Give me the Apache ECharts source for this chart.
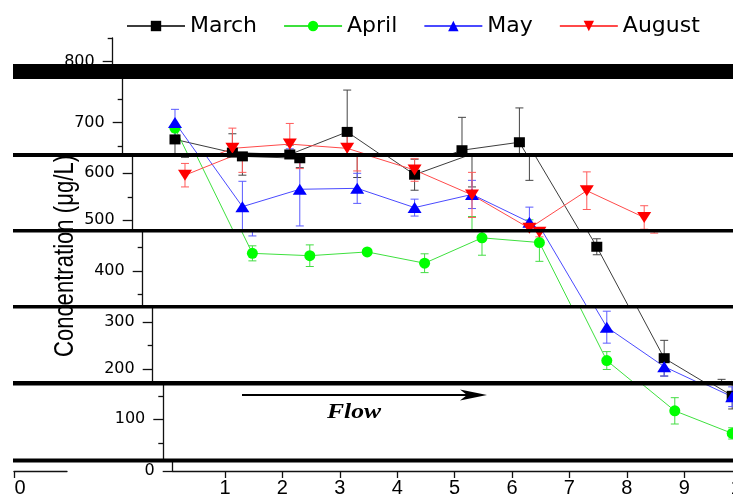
<!DOCTYPE html>
<html><head><meta charset="utf-8">
<script src="https://cdn.jsdelivr.net/npm/echarts@6/dist/echarts.min.js"></script>
<style>html,body{margin:0;padding:0;background:#fff}#c{width:733px;height:497px}</style>
</head><body><div id="c"></div>
<script>
// ---------------- data ----------------
const sites = [1, 2, 3, 4, 5, 6, 7, 8, 9, 10];
const monthNames = ['March', 'April', 'May', 'August'];
const marchValues  = [664, 636, 632, 680, 597, 641, 658, 452, 223, 150];
const marchErrors  = [30, 40, 20, 89, 33, 70, 73, 17, 38, 28];
const aprilValues  = [688, 438, 433, 441, 417, 471, 461, 218, 118, 70];
const aprilErrors  = [8, 16, 23, 5, 20, 37, 40, 19, 28, 12];
const mayValues    = [700, 529, 566, 568, 527, 555, 496, 289, 205, 148];
const mayErrors    = [28, 54, 78, 32, 18, 30, 32, 34, 20, 21];
const augustValues = [596, 645, 654, 645, 607, 554, 483, 563, 506];
const augustErrors = [25, 43, 44, 40, 24, 48, 10, 40, 25];
const yTickValues  = [0, 100, 200, 300, 400, 500, 600, 700, 800];
const yMinorValues = [50, 150, 250, 350, 450, 550, 650, 750, 850];
const xTickValues  = [1, 2, 3, 4, 5, 6, 7, 8, 9, 10];
const yAxisTitle = 'Concentration (\u03bcg/L)';
const flowText = 'Flow';

// ---------------- layout (pixel geometry of the shifted bands) ----------------
const PX_X = 57.4, PX_Y = 0.47, X_MIN = 0.089, X_MAX = 10.5;
const strips = [
  { axisX: 112.7, top: 38,    bottom: 70,    zeroY: 437.7 },
  { axisX: 122.7, top: 76,    bottom: 155,   zeroY: 451.5 },
  { axisX: 132.7, top: 155,   bottom: 231,   zeroY: 455.3 },
  { axisX: 142.7, top: 231,   bottom: 307,   zeroY: 459.2 },
  { axisX: 152.7, top: 307,   bottom: 383,   zeroY: 463.0 },
  { axisX: 163.3, top: 383,   bottom: 460.5, zeroY: 466.3 },
  { axisX: 172.7, top: 460.5, bottom: 471,   zeroY: 471.0 }
];
const bands = [[64, 79], [153, 157], [229, 232.5], [305, 308.5], [381, 385.5], [458.5, 462.5]];

const months = [
  { name: 'March',  values: marchValues,  errors: marchErrors,  color: '#000000', line: '#3c3c3c', err: '#444444', symbol: 'rect',     size: [11, 10], rotate: 0 },
  { name: 'April',  values: aprilValues,  errors: aprilErrors,  color: '#00ff00', line: '#3ee03e', err: '#44dd44', symbol: 'circle',   size: 11,       rotate: 0 },
  { name: 'May',    values: mayValues,    errors: mayErrors,    color: '#0000ff', line: '#4a4aff', err: '#5a5aff', symbol: 'triangle', size: [14, 11], rotate: 0 },
  { name: 'August', values: augustValues, errors: augustErrors, color: '#ff0000', line: '#ff4a4a', err: '#ff5a5a', symbol: 'triangle', size: [14, 11], rotate: 180 }
];

const AX = '#111';
const grids = [], xAxes = [], yAxes = [], series = [];
strips.forEach((s, i) => {
  const yMin = (s.zeroY - s.bottom) / PX_Y;
  const yMax = (s.zeroY - s.top) / PX_Y;
  grids.push({ left: s.axisX, top: s.top, width: (X_MAX - X_MIN) * PX_X, height: s.bottom - s.top,
               containLabel: false, outerBoundsMode: 'none' });
  const isBottom = i === strips.length - 1;
  xAxes.push({
    gridIndex: i, type: 'value', min: X_MIN, max: X_MAX, show: isBottom,
    axisLine: { show: true, onZero: false, lineStyle: { color: AX, width: 1.3 } },
    axisTick: { show: true, customValues: xTickValues, length: 7, lineStyle: { color: AX, width: 1.3 } },
    axisLabel: { show: true, customValues: xTickValues, margin: 7, fontFamily: '"Liberation Sans", Arial, sans-serif', fontSize: 20, color: '#000' },
    splitLine: { show: false }
  });
  const majors = yTickValues.filter(v => v >= yMin - 0.01 && v <= yMax + 0.01);
  const minors = yMinorValues.filter(v => v >= yMin - 0.01 && v <= yMax + 0.01);
  yAxes.push({
    gridIndex: i, type: 'value', position: 'left', min: yMin, max: yMax,
    axisLine: { show: true, onZero: false, lineStyle: { color: AX, width: 1.3 } },
    axisTick: { show: majors.length > 0, customValues: majors, length: 10, lineStyle: { color: AX, width: 1.3 } },
    axisLabel: { show: majors.length > 0, customValues: majors, margin: 18, fontFamily: '"DejaVu Sans", sans-serif', fontSize: 16, color: '#000' },
    splitLine: { show: false }
  });
  yAxes.push({
    gridIndex: i, type: 'value', position: 'left', min: yMin, max: yMax,
    axisLine: { show: false },
    axisTick: { show: minors.length > 0, customValues: minors, length: 5, lineStyle: { color: AX, width: 1.3 } },
    axisLabel: { show: false }, splitLine: { show: false }
  });
});
// stray axis fragment at the lower left
const extraIdx = strips.length;
grids.push({ left: 14, top: 460, width: 53, height: 11, containLabel: false, outerBoundsMode: 'none' });
xAxes.push({
  gridIndex: extraIdx, type: 'value', min: 0, max: 1,
  axisLine: { show: true, onZero: false, lineStyle: { color: AX, width: 1.3 } },
  axisTick: { show: true, customValues: [0], length: 7, lineStyle: { color: AX, width: 1.3 } },
  axisLabel: { show: true, customValues: [0], margin: 7, padding: [0, 0, 0, 12], fontFamily: '"Liberation Sans", Arial, sans-serif', fontSize: 20, color: '#000' },
  splitLine: { show: false }
});
yAxes.push({ gridIndex: extraIdx, type: 'value', min: 0, max: 1, show: false });

months.forEach(m => {
  strips.forEach((s, i) => {
    series.push({
      type: 'line', name: m.name, xAxisIndex: i, yAxisIndex: 2 * i, clip: true,
      data: m.values.map((v, k) => [sites[k], v]),
      symbol: m.symbol, symbolSize: m.size, symbolRotate: m.rotate, showAllSymbol: true,
      itemStyle: { color: m.color },
      lineStyle: { color: m.line, width: 1 },
      emphasis: { disabled: true }, z: 3, animation: false
    });
  });
});
months.forEach(m => {
  strips.forEach((s, i) => {
    series.push({
      type: 'custom', name: m.name, xAxisIndex: i, yAxisIndex: 2 * i, clip: true,
      data: m.values.map((v, k) => [sites[k], v, m.errors[k]]),
      encode: { x: 0, y: 1 },
      renderItem: (params, api) => {
        const x = api.value(0), y = api.value(1), e = api.value(2);
        const t = api.coord([x, y + e]), b = api.coord([x, y - e]);
        const st = { stroke: m.err, lineWidth: 1 };
        return { type: 'group', children: [
          { type: 'line', shape: { x1: t[0], y1: t[1], x2: b[0], y2: b[1] }, style: st },
          { type: 'line', shape: { x1: t[0] - 4, y1: t[1], x2: t[0] + 4, y2: t[1] }, style: st },
          { type: 'line', shape: { x1: b[0] - 4, y1: b[1], x2: b[0] + 4, y2: b[1] }, style: st }
        ]};
      },
      z: 2, animation: false, silent: true
    });
  });
});

const graphics = bands.map(b => ({
  type: 'rect', z: 100, silent: true,
  shape: { x: 13, y: b[0], width: 730, height: b[1] - b[0] },
  style: { fill: '#000' }
}));
graphics.push({
  type: 'text', z: 10, x: 65, y: 256, rotation: Math.PI / 2, scaleX: 0.79,
  style: { text: yAxisTitle, font: '28px "Liberation Sans", Arial, sans-serif', fill: '#000', align: 'center', verticalAlign: 'middle' }
});
graphics.push({
  type: 'line', z: 10, shape: { x1: 242, y1: 395, x2: 472, y2: 395 }, style: { stroke: '#000', lineWidth: 2 }
});
graphics.push({
  type: 'polygon', z: 10, shape: { points: [[487, 395], [460, 389.5], [467, 395], [460, 400.5]] }, style: { fill: '#000' }
});
graphics.push({
  type: 'text', z: 10, x: 354, y: 413, scaleX: 1.22,
  style: { text: flowText, font: 'italic bold 21px "Liberation Serif", "Times New Roman", serif', fill: '#000', align: 'center', verticalAlign: 'middle' }
});

const chart = echarts.init(document.getElementById('c'));
chart.setOption({
  animation: false,
  backgroundColor: '#fff',
  legend: {
    data: monthNames, left: 121, top: 10, itemWidth: 58, itemHeight: 13, itemGap: 26,
    textStyle: { fontFamily: '"DejaVu Sans", sans-serif', fontSize: 22, color: '#000' }
  },
  grid: grids, xAxis: xAxes, yAxis: yAxes, series: series, graphic: graphics
});
</script>
</body></html>
